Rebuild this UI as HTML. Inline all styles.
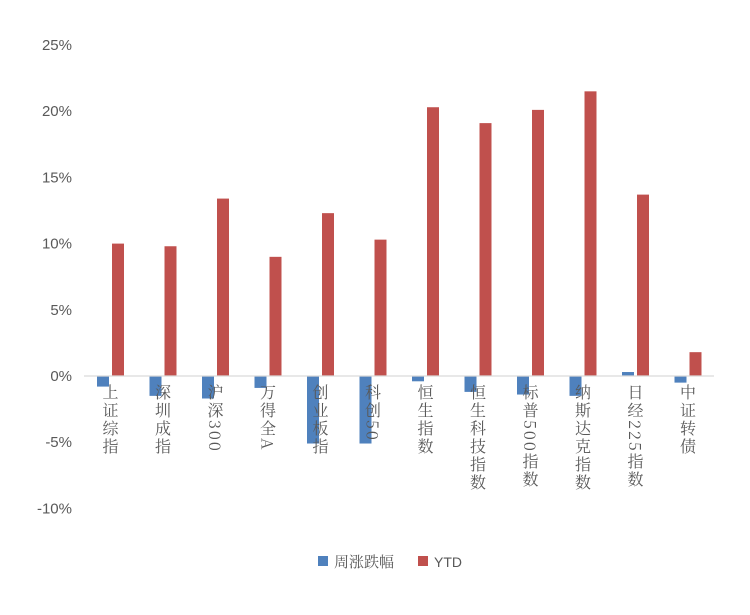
<!DOCTYPE html>
<html><head><meta charset="utf-8">
<style>
body{margin:0;background:#fff;}
svg text{font-family:"Liberation Sans","Noto Sans CJK SC",sans-serif;fill:#595959;}
.cat{font-family:"Noto Serif CJK SC","Liberation Sans",serif;font-size:16px;letter-spacing:2px;writing-mode:vertical-rl;text-orientation:mixed;fill:#595959;}
</style></head>
<body>
<svg id="chart" width="750" height="610" viewBox="0 0 750 610">
<g id="yaxis"></g>
<g id="bars"></g>
<line x1="84" x2="714" y1="376" y2="376" stroke="#d9d9d9" stroke-width="1.2"/>
<g id="labels"></g>
<g>
<g>
<rect x="318" y="556" width="10" height="10" fill="#4f81bd"/>
<text x="334" y="567" style="font-family:'Noto Serif CJK SC',serif;font-size:15px">周涨跌幅</text>
</g>
<g>
<rect x="418" y="556" width="10" height="10" fill="#c0504d"/>
<text x="434" y="567" font-size="14">YTD</text>
</g>
</g>
</svg>
<script>
const categories=["上证综指","深圳成指","沪深300","万得全A","创业板指","科创50","恒生指数","恒生科技指数","标普500指数","纳斯达克指数","日经225指数","中证转债"];
const weekly=[-0.8,-1.5,-1.7,-0.9,-5.1,-5.1,-0.4,-1.2,-1.4,-1.5,0.3,-0.5];
const ytd=[10.0,9.8,13.4,9.0,12.3,10.3,20.3,19.1,20.1,21.5,13.7,1.8];
const yTicks=[25,20,15,10,5,0,-5,-10];
const NS="http://www.w3.org/2000/svg";
const y0=376, pxPer=13.24, left=84, step=52.5;
function yS(v){return y0-v*pxPer;}
function xC(i){return left+step*i+26.5;}
function mk(tag,attrs,parent){const e=document.createElementNS(NS,tag);for(const k in attrs)e.setAttribute(k,attrs[k]);parent.appendChild(e);return e;}
const ya=document.getElementById('yaxis');
yTicks.forEach(t=>{
  const e=mk('text',{x:72,y:yS(t)+5,'text-anchor':'end','font-size':15},ya);
  
  
  e.textContent=t+'%';
});
const bars=document.getElementById('bars');
categories.forEach((c,i)=>{
  const cx=xC(i);
  const w=weekly[i];
  const b=mk('rect',{x:cx-13.5,width:12,y:Math.min(yS(w),y0),height:Math.abs(yS(w)-y0),fill:'#4f81bd'},bars);
  
  
  const r=ytd[i];
  const b2=mk('rect',{x:cx+1.5,width:12,y:Math.min(yS(r),y0),height:Math.abs(yS(r)-y0),fill:'#c0504d'},bars);
  
  
});
const lab=document.getElementById('labels');
categories.forEach((c,i)=>{
  const t=mk('text',{x:xC(i),y:384,class:'cat'},lab);
  
  
  t.textContent=c;
});
</script>
</body></html>
